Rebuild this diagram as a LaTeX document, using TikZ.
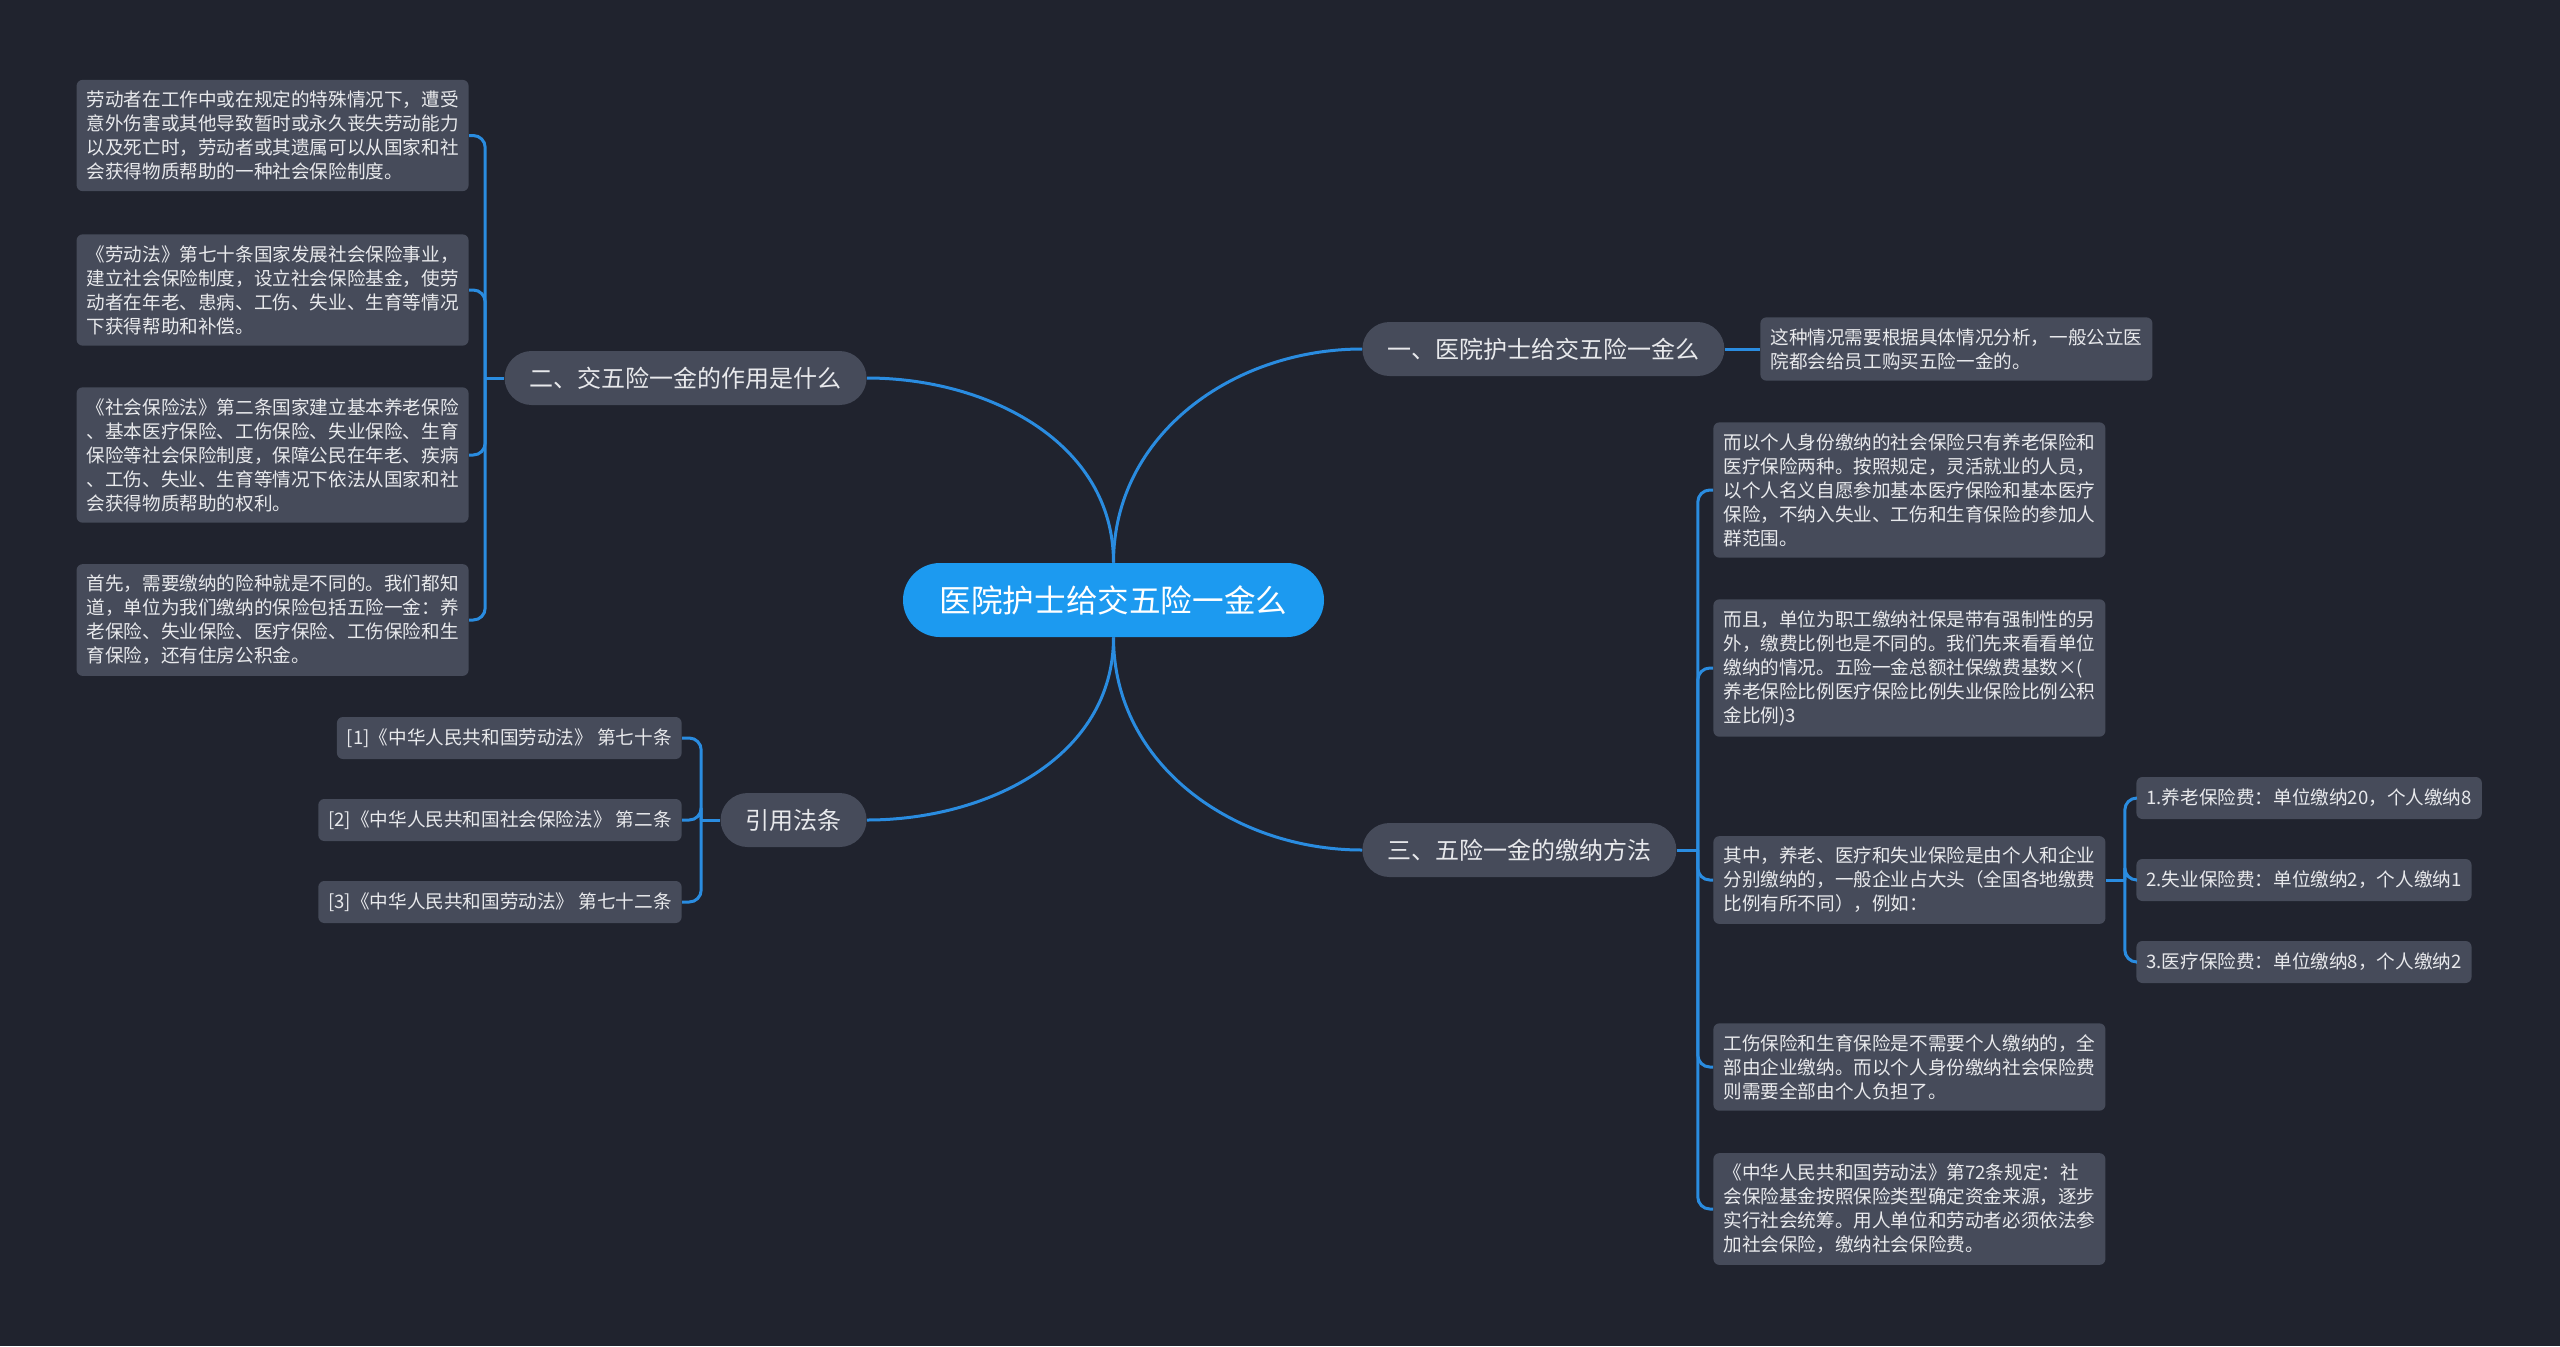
\documentclass[tikz,border=0pt]{standalone}
\usepackage{fontspec}
\setmainfont{Noto Sans CJK SC}
\usetikzlibrary{calc}
\definecolor{bgnavy}{HTML}{20232E}
\definecolor{boxgray}{HTML}{464B5A}
\definecolor{linkblue}{HTML}{2A8CE0}
\definecolor{rootblue}{HTML}{1C9AF0}
\definecolor{paleink}{HTML}{E8E9EC}
\begin{document}
\begin{tikzpicture}[
		x=0.5pt, y=0.5pt,
		rootpill/.style={rounded corners=18.5pt, fill=rootblue, text=white, minimum width=210.5pt, minimum height=37pt, inner sep=0pt, font=\fontsize{15.8}{18}\selectfont},
		topic/.style={rounded corners=13.5pt, fill=boxgray, text=paleink, minimum height=27pt, inner xsep=12.5pt, inner ysep=0pt, font=\fontsize{12}{14}\selectfont},
		leaf/.style={rounded corners=3pt, fill=boxgray, text=paleink, text width=186pt, align=left, inner xsep=5pt, inner ysep=5.5pt, font=\fontsize{9.3}{12}\selectfont},
		tag/.style={rounded corners=3pt, fill=boxgray, text=paleink, minimum height=21pt, inner xsep=5pt, inner ysep=0pt, font=\fontsize{9.3}{12}\selectfont},
		link/.style={draw=linkblue, line width=1.5pt},
		elbow/.style={link, rounded corners=6pt}
	]
		\fill[bgnavy] (0,0) rectangle (2560,-1346);
		\useasboundingbox (0,0) rectangle (2560,-1346);
		\node[rootpill] (R) at (1113.5,-600) {医院护士给交五险一金么};
		\node[topic, anchor=west] (B1) at (1362,-349) {一、医院护士给交五险一金么};
		\node[topic, anchor=east] (B2) at (867,-378) {二、交五险一金的作用是什么};
		\node[topic, anchor=west] (B3) at (1362,-850) {三、五险一金的缴纳方法};
		\node[topic, anchor=east] (B4) at (867,-820) {引用法条};
		\node[leaf, anchor=west] (A1) at (1760,-349) {这种情况需要根据具体情况分析，一般公立医\\院都会给员工购买五险一金的。};
		\node[leaf, anchor=east] (U1) at (469,-135.5) {劳动者在工作中或在规定的特殊情况下，遭受\\意外伤害或其他导致暂时或永久丧失劳动能力\\以及死亡时，劳动者或其遗属可以从国家和社\\会获得物质帮助的一种社会保险制度。};
		\node[leaf, anchor=east] (U2) at (469,-290) {《劳动法》第七十条国家发展社会保险事业，\\建立社会保险制度，设立社会保险基金，使劳\\动者在年老、患病、工伤、失业、生育等情况\\下获得帮助和补偿。};
		\node[leaf, anchor=east] (U3) at (469,-455) {《社会保险法》第二条国家建立基本养老保险\\、基本医疗保险、工伤保险、失业保险、生育\\保险等社会保险制度，保障公民在年老、疾病\\、工伤、失业、生育等情况下依法从国家和社\\会获得物质帮助的权利。};
		\node[leaf, anchor=east] (U4) at (469,-620) {首先，需要缴纳的险种就是不同的。我们都知\\道，单位为我们缴纳的保险包括五险一金：养\\老保险、失业保险、医疗保险、工伤保险和生\\育保险，还有住房公积金。};
		\node[leaf, anchor=west] (P1) at (1713,-490) {而以个人身份缴纳的社会保险只有养老保险和\\医疗保险两种。按照规定，灵活就业的人员，\\以个人名义自愿参加基本医疗保险和基本医疗\\保险，不纳入失业、工伤和生育保险的参加人\\群范围。};
		\node[leaf, anchor=west] (P2) at (1713,-668) {而且，单位为职工缴纳社保是带有强制性的另\\外，缴费比例也是不同的。我们先来看看单位\\缴纳的情况。五险一金总额社保缴费基数×(\\养老保险比例医疗保险比例失业保险比例公积\\金比例)3};
		\node[leaf, anchor=west] (P3) at (1713,-880) {其中，养老、医疗和失业保险是由个人和企业\\分别缴纳的，一般企业占大头（全国各地缴费\\比例有所不同），例如：};
		\node[leaf, anchor=west] (P4) at (1713,-1067) {工伤保险和生育保险是不需要个人缴纳的，全\\部由企业缴纳。而以个人身份缴纳社会保险费\\则需要全部由个人负担了。};
		\node[leaf, anchor=west] (P5) at (1713,-1209) {《中华人民共和国劳动法》第72条规定：社\\会保险基金按照保险类型确定资金来源，逐步\\实行社会统筹。用人单位和劳动者必须依法参\\加社会保险，缴纳社会保险费。};
		\foreach \i/\y/\t in {1/798/{1.养老保险费：单位缴纳20，个人缴纳8}, 2/880/{2.失业保险费：单位缴纳2，个人缴纳1}, 3/962/{3.医疗保险费：单位缴纳8，个人缴纳2}} {
			\node[tag, anchor=west] (S\i) at (2136,-\y) {\t};
		}
		\foreach \i/\y/\t in {1/738/{[1]《中华人民共和国劳动法》 第七十条}, 2/820/{[2]《中华人民共和国社会保险法》 第二条}, 3/902/{[3]《中华人民共和国劳动法》 第七十二条}} {
			\node[tag, anchor=east] (C\i) at (682,-\y) {\t};
		}
		\draw[link] (R.north) to[out=90, in=180] (B1.west);
		\draw[link] (R.north) to[out=90, in=0] (B2.east);
		\draw[link] (R.south) to[out=-90, in=180] (B3.west);
		\draw[link] (R.south) to[out=-90, in=0] (B4.east);
		\draw[link] (B1.east) -- (A1.west);
		\coordinate (J2) at ($(B2.west)+(-19,0)$);
		\coordinate (J3) at ($(B3.east)+(21,0)$);
		\coordinate (J4) at ($(B4.west)+(-19,0)$);
		\coordinate (JS) at ($(P3.east)+(19,0)$);
		\draw[link] (B2.west) -- (J2);
		\draw[link] (B3.east) -- (J3);
		\draw[link] (B4.west) -- (J4);
		\draw[link] (P3.east) -- (JS);
		\foreach \i in {1,2,3,4} {
			\draw[elbow] (J2) |- (U\i.east);
		}
		\foreach \i in {1,2,3,4,5} {
			\draw[elbow] (J3) |- (P\i.west);
		}
		\foreach \i in {1,2,3} {
			\draw[elbow] (J4) |- (C\i.east);
			\draw[elbow] (JS) |- (S\i.west);
		}
	\end{tikzpicture}
\end{document}
